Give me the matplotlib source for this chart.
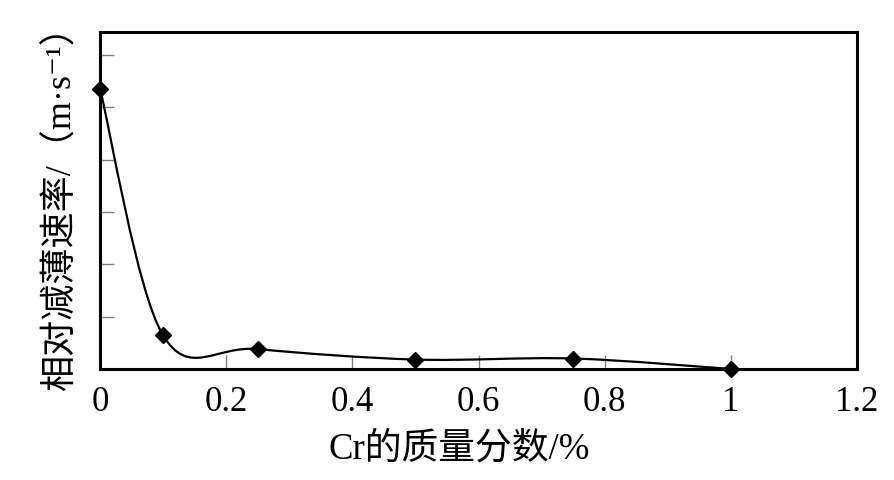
import numpy as np
import matplotlib
matplotlib.use('Agg')
from matplotlib import pyplot as plt
from matplotlib.path import Path
from matplotlib.patches import PathPatch

plt.rcParams['font.family'] = ['Liberation Serif', 'Noto Sans CJK SC', 'DejaVu Sans']

# Cr mass fraction (%) and relative thinning rate
cr_fraction = [0, 0.1, 0.25, 0.5, 0.75, 1.0]
thinning_rate = [5.35, 0.64, 0.38, 0.18, 0.2, 0.0]
x_ticks = [0, 0.2, 0.4, 0.6, 0.8, 1.0, 1.2]
x_tick_labels = ['0', '0.2', '0.4', '0.6', '0.8', '1', '1.2']
y_ticks = [1, 2, 3, 4, 5, 6]


def smooth_path(xs, ys):
    # excel-like smoothed line: cubic bezier segments with catmull-rom handles
    pts = np.column_stack([xs, ys])
    n = len(pts)
    verts = [pts[0]]
    codes = [Path.MOVETO]
    for i in range(n - 1):
        p_prev = pts[max(i - 1, 0)]
        p0 = pts[i]
        p1 = pts[i + 1]
        p_next = pts[min(i + 2, n - 1)]
        c1 = p0 + (p1 - p_prev) / 6.0
        c2 = p1 - (p_next - p0) / 6.0
        verts += [c1, c2, p1]
        codes += [Path.CURVE4] * 3
    return Path(verts, codes)


fig = plt.figure(figsize=(8.94, 4.80), dpi=100)
ax = fig.add_axes([0.1119, 0.2313, 0.8468, 0.7021])

curve = PathPatch(smooth_path(cr_fraction, thinning_rate), facecolor='none',
                  edgecolor='black', linewidth=1.6, zorder=2)
ax.add_patch(curve)
ax.plot(cr_fraction, thinning_rate, linestyle='none', marker='D',
        markersize=8.5, color='black', clip_on=False, zorder=3)

ax.set_xlim(0, 1.2)
ax.set_ylim(0, 6.44)
ax.set_xticks(x_ticks)
ax.set_xticklabels(x_tick_labels, fontsize=25)
ax.set_yticks(y_ticks)
ax.set_yticklabels([])
ax.tick_params(axis='both', direction='in', length=10, width=1, color='#808080')
ax.tick_params(axis='x', pad=12)
for sp in ax.spines.values():
    sp.set_linewidth(2.2)
    sp.set_color('black')

ax.set_xlabel('Cr的质量分数/%', fontsize=26.5)
ax.xaxis.set_label_coords(0.474, -0.188)
ax.set_ylabel('相对减薄速率/（m·s⁻¹）', fontsize=26)
ax.yaxis.set_label_coords(-0.029, 0.505)

fig.savefig('out.png', dpi=100)
